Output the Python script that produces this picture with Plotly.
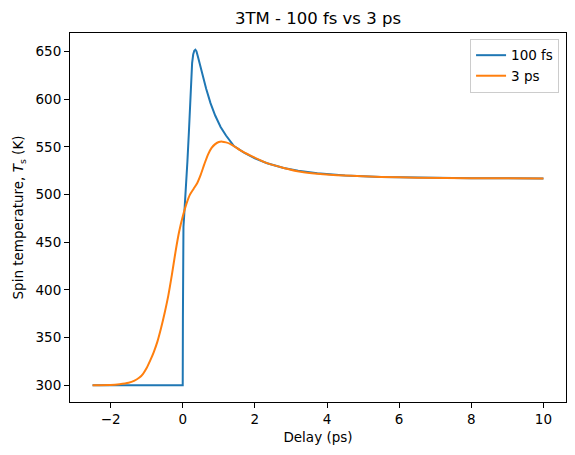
import plotly.graph_objects as go

# 100 fs pump: delay (ps) and spin temperature (K)
t_100fs = [-2.5, -0.5, 0.0, 0.005, 0.01, 0.02, 0.04, 0.08, 0.13, 0.17, 0.2, 0.23, 0.26, 0.29, 0.32,
           0.35, 0.38, 0.42, 0.47, 0.54, 0.65, 0.77, 0.9, 1.05, 1.2, 1.42, 1.7, 2.0, 2.34, 2.8,
           3.2, 3.73, 4.5, 5.5, 6.5, 8.0, 10.0]
T_100fs = [300, 300, 300, 370, 430, 466, 478, 500, 535, 565, 595, 622, 638, 647, 651,
           652, 650.5, 645, 637, 626, 611, 596, 583, 571, 562, 551, 544, 538, 533, 528,
           525, 522.5, 520, 518.5, 517.8, 517.2, 517]

# 3 ps pump
t_3ps = [-2.5, -2.0, -1.75, -1.5, -1.35, -1.2, -1.1, -1.0, -0.9, -0.8, -0.7, -0.6, -0.5, -0.4,
         -0.3, -0.2, -0.1, 0.0, 0.1, 0.2, 0.3, 0.4, 0.5, 0.6, 0.7, 0.8, 0.9, 1.0, 1.1, 1.2,
         1.3, 1.42, 1.6, 1.88, 2.34, 2.8, 3.27, 3.73, 4.5, 5.5, 6.5, 8.0, 10.0]
T_3ps = [300, 300.2, 301, 302.5, 304.5, 308, 312, 318, 326, 335, 346, 360, 376, 394,
         416, 440, 461, 477, 490, 500, 506, 512, 521, 532, 542, 549, 553, 555.3, 555.6, 554.8,
         553.5, 551, 546.5, 541, 533, 528, 524, 522, 520, 518.5, 517.8, 517.2, 517]

x_ticks = [-2, 0, 2, 4, 6, 8, 10]
y_ticks = [300, 350, 400, 450, 500, 550, 600, 650]

font = "DejaVu Sans"
fig = go.Figure()
fig.add_trace(go.Scatter(x=t_100fs, y=T_100fs, mode="lines", name="100 fs",
                         line=dict(color="#1f77b4", width=2)))
fig.add_trace(go.Scatter(x=t_3ps, y=T_3ps, mode="lines", name="3 ps",
                         line=dict(color="#ff7f0e", width=2, shape="spline", smoothing=0.6)))

axis_common = dict(showline=True, linecolor="black", linewidth=1, mirror=True,
                   ticks="outside", ticklen=5, tickwidth=1, tickcolor="black",
                   showgrid=False, zeroline=False,
                   tickfont=dict(family=font, size=13.5, color="black"))

fig.update_layout(
    width=575, height=455,
    margin=dict(l=70, r=9, t=33, b=53),
    paper_bgcolor="white", plot_bgcolor="white",
    font=dict(family=font, color="black"),
    title=dict(text="3TM - 100 fs vs 3 ps", x=0.5, xref="paper", xanchor="center",
               y=1 - 18 / 455, yanchor="middle",
               font=dict(family=font, size=16.5, color="black")),
    xaxis=dict(range=[-3.125, 10.625], tickvals=x_ticks,
               title=dict(text="Delay (ps)", font=dict(family=font, size=13.5), standoff=6),
               **axis_common),
    yaxis=dict(range=[282.4, 669.6], tickvals=y_ticks,
               title=dict(text="Spin temperature, <i>T</i><sub>s</sub> (K)",
                          font=dict(family=font, size=13.5), standoff=8),
               **axis_common),
    legend=dict(x=0.986, y=0.984, xanchor="right", yanchor="top",
                bgcolor="rgba(255,255,255,0.8)", bordercolor="#cccccc", borderwidth=1,
                font=dict(family=font, size=13.5, color="black"),
                tracegroupgap=0),
    showlegend=True,
)

fig.write_html("out.html")
